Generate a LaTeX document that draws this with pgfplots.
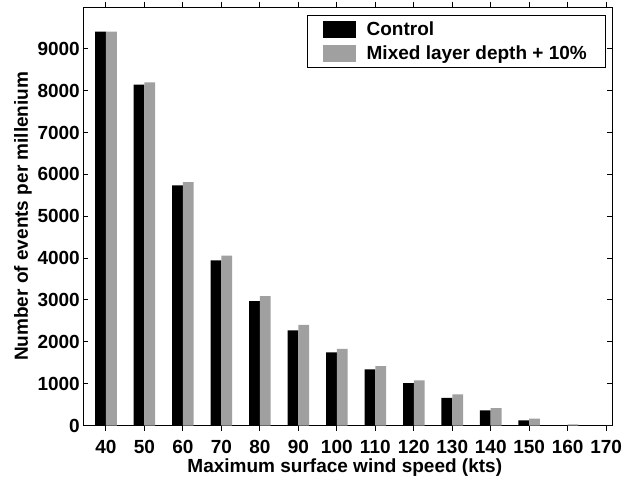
\documentclass[border=0pt]{standalone}
\usepackage{fontspec}
\setmainfont{Liberation Sans}
\usepackage{pgfplots}
\pgfplotsset{compat=1.18}
\definecolor{mixgray}{RGB}{160,160,160}
\newcommand{\chartfont}{\fontsize{19}{22}\selectfont\bfseries}
\begin{document}
\begin{tikzpicture}
\begin{axis}[
  scale only axis,
  width=529pt, height=418.5pt,
  xmin=34.1, xmax=171.6,
  ymin=0, ymax=10000,
  xtick={40,50,...,170},
  ytick={0,1000,...,9000},
  scaled y ticks=false,
  /pgf/number format/assume math mode=true,
  yticklabel={\pgfmathprintnumber[fixed,1000 sep={}]{\tick}},
  tick align=inside,
  major tick length=5pt,
  axis line style={line width=1pt},
  every tick/.style={line width=1pt, black},
  tick label style={font=\chartfont},
  xticklabel style={anchor=base, yshift=-23pt},
  yticklabel style={inner xsep=0pt, xshift=-3.3pt},
  label style={font=\chartfont},
  xlabel={Maximum surface wind speed (kts)},
  xlabel style={at={(axis description cs:0.5,0)}, anchor=base, yshift=-46.5pt, xshift=-3pt},
  ybar,
  bar width=2.8,
  legend style={at={(0.9887,0.981)}, anchor=north east, draw=black, line width=1pt,
    font=\chartfont, inner xsep=15pt, inner ysep=5pt,
    nodes={inner xsep=4pt, inner ysep=1.5pt}, row sep=6pt, column sep=7pt},
  legend cell align=left,
]
\addplot[fill=black, draw=none, bar shift=-1.4,
  legend image code/.code={\fill[black] (0pt,-8.5pt) rectangle (33pt,8.5pt);}]
  coordinates {(40,9410) (50,8143) (60,5736) (70,3948) (80,2974) (90,2276) (100,1746) (110,1342) (120,1010) (130,660) (140,361) (150,124) (160,10) (170,0)};
\addlegendentry{Control}
\addplot[fill=mixgray, draw=none, bar shift=1.4,
  legend image code/.code={\fill[mixgray] (0pt,-8.5pt) rectangle (33pt,8.5pt);}]
  coordinates {(40,9410) (50,8200) (60,5815) (70,4057) (80,3093) (90,2404) (100,1834) (110,1420) (120,1081) (130,741) (140,416) (150,162) (160,30) (170,0)};
\addlegendentry{Mixed layer depth + 10\%}
\end{axis}
\node[rotate=90, anchor=base, font=\chartfont, inner sep=0pt] at ([xshift=-55.3pt]current axis.west) {Number of events per millenium};
\path ([shift={(-83.3pt,-50.5pt)}]current axis.south west) rectangle ++(628pt,476pt);
\end{tikzpicture}
\end{document}
